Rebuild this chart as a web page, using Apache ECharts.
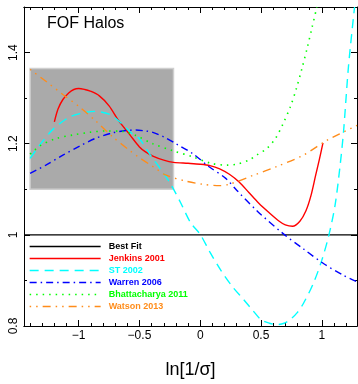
<!DOCTYPE html>
<html>
<head>
<meta charset="utf-8">
<script src="https://cdn.jsdelivr.net/npm/echarts@6/dist/echarts.min.js"></script>
<style>
  html, body { margin: 0; padding: 0; background: #fff; }
  #chart { width: 358px; height: 384px; }
</style>
</head>
<body>
<div id="chart"></div>
<script>
// Mass-function ratios against the best fit, as a function of ln(1/sigma)
const xRange = [-1.45, 1.29];
const yRange = [0.8, 1.5];
const xMajorTicks = [-1, -0.5, 0, 0.5, 1];
const yTickStep = 0.2;

// Range covered by the simulations (shaded box)
const boxX = [-1.40, -0.22];
const boxY = [1.10, 1.365];

const bestFitX = [-1.45, 1.29];
const bestFitY = [1.0, 1.0];

const jenkinsX = [-1.20, -1.17, -1.13, -1.08, -1.04, -1.00, -0.95, -0.91, -0.83, -0.75, -0.67, -0.58, -0.50, -0.45, -0.39, -0.30, -0.22, -0.10, 0.00, 0.08, 0.16, 0.24, 0.32, 0.40, 0.48, 0.57, 0.65, 0.70, 0.76, 0.82, 0.87, 0.91, 0.95, 0.98, 1.01];
const jenkinsY = [1.248, 1.276, 1.297, 1.312, 1.319, 1.321, 1.319, 1.316, 1.305, 1.283, 1.250, 1.220, 1.193, 1.182, 1.173, 1.164, 1.159, 1.157, 1.155, 1.152, 1.145, 1.133, 1.116, 1.093, 1.070, 1.048, 1.030, 1.022, 1.019, 1.030, 1.053, 1.085, 1.131, 1.165, 1.202];

const stX = [-1.40, -1.30, -1.21, -1.08, -0.99, -0.87, -0.75, -0.67, -0.56, -0.50, -0.41, -0.32, -0.24, -0.16, -0.08, 0.00, 0.08, 0.17, 0.26, 0.36, 0.43, 0.50, 0.57, 0.63, 0.69, 0.74, 0.80, 0.85, 0.93, 1.00, 1.06, 1.11, 1.15, 1.18, 1.22, 1.27];
const stY = [1.168, 1.204, 1.232, 1.258, 1.266, 1.271, 1.265, 1.250, 1.222, 1.211, 1.175, 1.142, 1.110, 1.070, 1.027, 1.001, 0.962, 0.922, 0.888, 0.857, 0.835, 0.814, 0.806, 0.803, 0.806, 0.814, 0.830, 0.850, 0.893, 0.944, 1.001, 1.066, 1.150, 1.229, 1.370, 1.500];

const warrenX = [-1.40, -1.27, -1.13, -0.99, -0.86, -0.72, -0.61, -0.53, -0.45, -0.39, -0.30, -0.20, -0.06, 0.07, 0.21, 0.30, 0.47, 0.69, 0.85, 1.02, 1.18, 1.29];
const warrenY = [1.135, 1.153, 1.175, 1.195, 1.212, 1.224, 1.229, 1.230, 1.228, 1.225, 1.215, 1.200, 1.178, 1.150, 1.124, 1.098, 1.052, 1.001, 0.969, 0.936, 0.911, 0.897];

const bhattX = [-1.40, -1.32, -1.19, -1.05, -0.91, -0.78, -0.64, -0.53, -0.39, -0.23, -0.06, 0.09, 0.22, 0.30, 0.40, 0.47, 0.55, 0.62, 0.68, 0.74, 0.79, 0.84, 0.88, 0.92, 0.96];
const bhattY = [1.177, 1.195, 1.211, 1.219, 1.225, 1.228, 1.227, 1.218, 1.200, 1.185, 1.171, 1.157, 1.153, 1.155, 1.164, 1.176, 1.190, 1.212, 1.243, 1.280, 1.320, 1.368, 1.410, 1.455, 1.500];

const watsonX = [-1.40, -1.27, -1.13, -0.99, -0.86, -0.72, -0.58, -0.51, -0.39, -0.28, -0.12, 0.02, 0.16, 0.25, 0.44, 0.63, 0.85, 1.04, 1.29];
const watsonY = [1.363, 1.337, 1.308, 1.280, 1.250, 1.215, 1.185, 1.171, 1.150, 1.131, 1.118, 1.111, 1.108, 1.112, 1.131, 1.150, 1.175, 1.207, 1.240];

const pairs = (xs, ys) => xs.map((x, i) => [x, ys[i]]);

// minor tick positions every 0.1 across the x range
const xMinorTicks = [];
for (let k = -14; k <= 12; k++) xMinorTicks.push(+(k / 10).toFixed(1));

const FONT = '"Liberation Sans", Arial, sans-serif';
const fmtMinus = v => String(v).replace('-', '\u2212');

const chart = echarts.init(document.getElementById('chart'), null, { renderer: 'canvas' });

const axisLine = { show: true, onZero: false, lineStyle: { color: '#000', width: 1 } };

function xAxisDef(position, ticks, len, withLabels) {
  return {
    type: 'value', position, min: xRange[0], max: xRange[1],
    axisLine: axisLine,
    axisTick: { show: true, inside: true, length: len, customValues: ticks, lineStyle: { color: '#000', width: 1 } },
    axisLabel: withLabels
      ? { show: true, customValues: ticks, formatter: fmtMinus, color: '#000', fontSize: 12, fontFamily: FONT, margin: 4 }
      : { show: false },
    splitLine: { show: false }
  };
}

function yAxisDef(position, withLabels) {
  return {
    type: 'value', position, min: yRange[0], max: yRange[1], interval: yTickStep,
    axisLine: axisLine,
    axisTick: { show: true, inside: true, length: 6, lineStyle: { color: '#000', width: 1 } },
    minorTick: { show: true, splitNumber: 2, length: 3, lineStyle: { color: '#000', width: 1 } },
    axisLabel: withLabels
      ? { show: true, rotate: 90, color: '#000', fontSize: 12, fontFamily: FONT, margin: 4,
          showMaxLabel: false }
      : { show: false },
    splitLine: { show: false }
  };
}

const xAxes = [
  Object.assign(xAxisDef('bottom', xMajorTicks, 6, true), {
    name: 'ln[1/\u03c3]', nameLocation: 'middle', nameGap: 35,
    nameTextStyle: { fontSize: 18, fontFamily: FONT, color: '#000' }
  }),
  xAxisDef('bottom', xMinorTicks, 3, false),
  xAxisDef('top', xMajorTicks, 6, false),
  xAxisDef('top', xMinorTicks, 3, false)
];

const seriesList = [
  { name: 'Best Fit', color: '#000000', x: bestFitX, y: bestFitY, type: 'solid', width: 1.3 },
  { name: 'Jenkins 2001', color: '#ff0000', x: jenkinsX, y: jenkinsY, type: 'solid', width: 1.4 },
  { name: 'ST 2002', color: '#00ffff', x: stX, y: stY, type: [9, 6], width: 1.4 },
  { name: 'Warren 2006', color: '#0000ff', x: warrenX, y: warrenY, type: [7, 4, 1.5, 4], width: 1.4 },
  { name: 'Bhattacharya 2011', color: '#00ff00', x: bhattX, y: bhattY, type: [1.5, 5], width: 1.6 },
  { name: 'Watson 2013', color: '#ff8c1a', x: watsonX, y: watsonY, type: [1.5, 5, 1.5, 5, 8, 5], width: 1.4 }
];

const series = seriesList.map((s, i) => {
  const out = {
    name: s.name, type: 'line', data: pairs(s.x, s.y),
    smooth: 0.3, symbol: 'none', showSymbol: false, clip: true,
    color: s.color,
    lineStyle: { color: s.color, width: s.width, type: s.type },
    z: 3 + i, animation: false
  };
  if (i === 0) {
    out.smooth = false;
    out.markArea = {
      silent: true, z: 1,
      itemStyle: { color: '#aaaaaa', borderColor: '#cfcfcf', borderWidth: 1.5 },
      data: [[{ coord: [boxX[0], boxY[1]] }, { coord: [boxX[1], boxY[0]] }]]
    };
  }
  return out;
});

chart.setOption({
  animation: false,
  backgroundColor: '#ffffff',
  textStyle: { fontFamily: FONT },
  title: {
    text: 'FOF Halos', left: 47, top: 16, padding: 0,
    textStyle: { fontSize: 16, fontWeight: 'normal', color: '#000', fontFamily: FONT }
  },
  grid: { left: 24, right: 1, top: 7, bottom: 54, containLabel: false },
  legend: {
    orient: 'vertical', left: 29, top: 242, padding: 0,
    itemWidth: 71, itemHeight: 10, itemGap: 3,
    selectedMode: false,
    itemStyle: { opacity: 0, color: 'rgba(0,0,0,0)', borderWidth: 0 },
    lineStyle: { width: 1.3 },
    textStyle: { fontSize: 9, fontWeight: 'bold', fontFamily: FONT, padding: [0, 0, 0, 3] },
    data: seriesList.map(s => ({ name: s.name, textStyle: { color: s.color } }))
  },
  xAxis: xAxes,
  yAxis: [yAxisDef('left', true), yAxisDef('right', false)],
  series
});
</script>
</body>
</html>
